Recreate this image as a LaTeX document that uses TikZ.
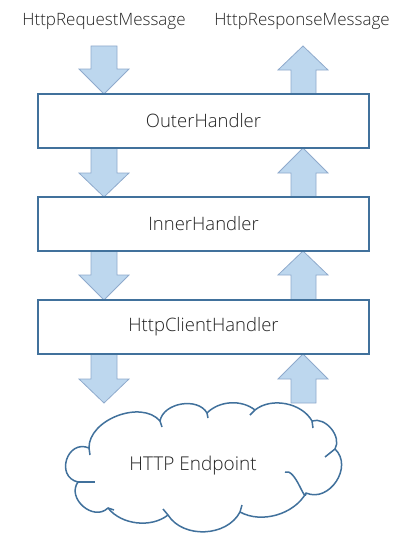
\documentclass[tikz,border=0pt]{standalone}
\usepackage{fontspec}
\setmainfont{Open Sans}[UprightFont=* Light]
\definecolor{boxblue}{RGB}{65,113,156}
\definecolor{arrfill}{RGB}{189,215,238}
\definecolor{arrline}{RGB}{143,170,204}
\definecolor{txt}{RGB}{35,35,35}
\begin{document}
\begin{tikzpicture}[x=1pt,y=-1pt,
  handler/.style={draw=boxblue,line width=1.8pt,fill=white,minimum width=331pt,minimum height=54pt,inner sep=0pt,font=\fontsize{18.5}{21}\selectfont,text=txt},
  label/.style={font=\fontsize{17}{20}\selectfont,text=txt,inner sep=0pt},
  blockarrow/.style={draw=arrline,fill=arrfill,line width=0.8pt,line join=miter},
  cloudline/.style={draw=boxblue,line width=1.5pt,line join=round}]
\useasboundingbox (0,0) rectangle (415,543);
\newcommand{\downarr}[3]{\draw[blockarrow] (91,#1) -- (117,#1) -- (117,#2) -- (129,#2) -- (104,#3) -- (79,#2) -- (91,#2) -- cycle;}
\newcommand{\uparr}[3]{\draw[blockarrow] (303,#1) -- (328,#2) -- (316,#2) -- (316,#3) -- (291,#3) -- (291,#2) -- (278,#2) -- cycle;}
\downarr{46}{69}{94}
\downarr{148}{173}{197}
\downarr{251}{275}{300}
\downarr{354}{379}{403}
\uparr{46}{70}{94}
\uparr{148}{173}{197}
\uparr{251}{275}{300}
\uparr{354}{379}{403}
\node[label] (req) at (104,21) {HttpRequestMessage};
\node[label] (resp) at (302,21) {HttpResponseMessage};
\node[handler] (outer) at (203.5,121) {OuterHandler};
\node[handler] (inner) at (203.5,224) {InnerHandler};
\node[handler] (client) at (203.5,327) {HttpClientHandler};
% cloud
\coordinate (c1) at (89,448);
\coordinate (c2) at (160,421);
\coordinate (c3) at (207,413);
\coordinate (c4) at (255,410);
\coordinate (c5) at (312,421);
\coordinate (c6) at (335,449);
\coordinate (c7) at (306,493);
\coordinate (c8) at (240,512);
\coordinate (c9) at (168,515);
\coordinate (c10) at (108,508);
\coordinate (c11) at (78,482);
\path[cloudline,fill=white] (c1)
  to[bend left=70,looseness=0.96] (c2)
  to[bend left=70,looseness=1.0] (c3)
  to[bend left=42,looseness=0.92] (c4)
  to[bend left=50,looseness=0.92] (c5)
  to[bend left=70,looseness=1.0] (c6)
  to[bend left=80,looseness=1.24] (c7)
  to[bend left=45,looseness=0.91] (c8)
  to[bend left=60,looseness=1.0] (c9)
  to[bend left=45,looseness=0.91] (c10)
  to[bend left=85,looseness=1.3] (c11)
  to[bend left=95,looseness=1.7] (c1) -- cycle;
% inner strokes of the cloud
\draw[cloudline] (c1) -- (90,455);
\draw[cloudline] (c2) -- (162,427);
\draw[cloudline] (c3) -- (208,418);
\draw[cloudline] (c4) -- (250,415);
\draw[cloudline] (c5) -- (313,428);
\draw[cloudline] (c6) -- (325,457);
\draw[cloudline] (285,472) to[out=20,in=-95] (c7);
\draw[cloudline] (c8) -- (242,505);
\draw[cloudline] (c9) -- (163,509);
\draw[cloudline] (c10) -- (114,510);
\draw[cloudline] (c11) -- (95,482);
\node[font=\fontsize{19}{22}\selectfont,text=txt,inner sep=0pt] (endpoint) at (193,466) {HTTP Endpoint};
\end{tikzpicture}
\end{document}
